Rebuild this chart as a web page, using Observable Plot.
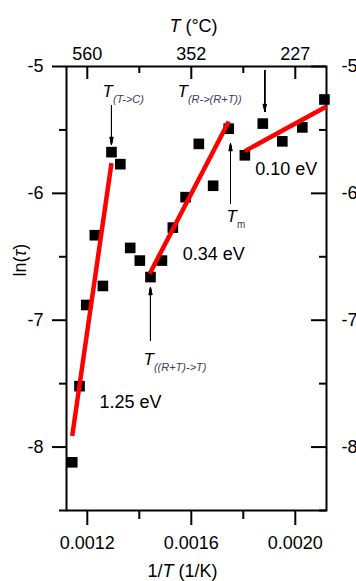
<!DOCTYPE html>
<html><head><meta charset="utf-8">
<script src="https://cdn.jsdelivr.net/npm/d3@7"></script>
<script src="https://cdn.jsdelivr.net/npm/@observablehq/plot@0.6"></script>
<style>body{margin:0;background:#fff}</style>
</head><body><div id="chart"></div>
<script>
// measured points: 1/T (1/K) and ln(tau)
const invT  = [0.001142, 0.001170, 0.001196, 0.001229, 0.001260, 0.001293, 0.001327, 0.001365, 0.001402, 0.001443, 0.001487, 0.001529, 0.001578, 0.001629, 0.001684, 0.001744, 0.001806, 0.001875, 0.001950, 0.002027, 0.002112];
const lnTau = [-8.12, -7.52, -6.88, -6.33, -6.73, -5.675, -5.77, -6.43, -6.53, -6.66, -6.53, -6.27, -6.03, -5.61, -5.94, -5.49, -5.70, -5.45, -5.59, -5.48, -5.26];
// linear fits (start / end)
const fitXStart = [0.001142, 0.001440, 0.001806];
const fitYStart = [-7.913, -6.634, -5.667];
const fitXEnd   = [0.001293, 0.001744, 0.002120];
const fitYEnd   = [-5.762, -5.433, -5.315];
// activation energy labels
const eVText = ["1.25 eV", "0.34 eV", "0.10 eV"];
const eVX = [0.001366, 0.0016865, 0.0019654];
const eVY = [-7.648, -6.476, -5.812];
// transition labels
const annoMain = ["T", "T", "T", "T"];
const annoSub  = ["(T->C)", "(R->(R+T))", "((R+T)->T)", "m"];
const annoX = [0.0012585, 0.001547, 0.0014162, 0.0017354];
const annoY = [-5.244, -5.244, -7.356, -6.229];
// arrows
const arrowX     = [0.001293, 0.0018827, 0.0017508, 0.001443];
const arrowYFrom = [-5.307, -5.031, -6.08, -7.159];
const arrowYTo   = [-5.615, -5.355, -5.607, -6.742];
// ticks
const xMajor = [0.0012, 0.0016, 0.0020];
const xMinor = [0.0014, 0.0018];
const yMajor = [-5, -6, -7, -8];
const yMinor = [-5.5, -6.5, -7.5, -8.5];

const W = 356, H = 581, mL = 66, mR = 30, mT = 66, mB = 71;
const fw = W - mL - mR, fh = H - mT - mB;
const FONT = "'Liberation Sans', Arial, sans-serif";
const idx = a => a.map((_, i) => i);

const arrowMarks = [26, 19, 12, 6, 2].map(a =>
  Plot.arrow(idx(arrowX), {
    x1: i => arrowX[i], x2: i => arrowX[i],
    y1: i => arrowYFrom[i], y2: i => arrowYTo[i],
    stroke: "black", strokeWidth: 1, headAngle: a, headLength: 11
  }));

const chart = Plot.plot({
  width: W, height: H,
  marginLeft: mL, marginRight: mR, marginTop: mT, marginBottom: mB,
  style: {fontFamily: FONT, fontSize: "18px", background: "#fff", color: "black"},
  x: {domain: [0.00112, 0.00212]},
  y: {domain: [-8.5, -5]},
  marks: [
    // bottom axis
    Plot.axisX(xMajor, {anchor: "bottom", tickSize: 15, tickPadding: 11, strokeWidth: 2, fontSize: 18, tickFormat: d3.format(".4f"), label: null}),
    Plot.axisX(xMinor, {anchor: "bottom", tickSize: 9, strokeWidth: 2, tickFormat: () => "", label: null}),
    // top axis (Celsius), inward ticks
    Plot.axisX(xMajor, {anchor: "top", tickSize: 0, tickPadding: 7, fontSize: 18, tickFormat: d => String(Math.round(1 / d - 273.15)), label: null}),
    Plot.tickX(xMajor, {x: d => d, stroke: "black", strokeWidth: 2, insetBottom: fh - 13}),
    Plot.tickX(xMinor, {x: d => d, stroke: "black", strokeWidth: 2, insetBottom: fh - 7}),
    // left axis
    Plot.axisY(yMajor, {anchor: "left", tickSize: 14, tickPadding: 9, strokeWidth: 2, fontSize: 18, tickFormat: d => String(d), label: null}),
    Plot.axisY(yMinor, {anchor: "left", tickSize: 7, strokeWidth: 2, tickFormat: () => "", label: null}),
    // right axis, inward ticks
    Plot.axisY(yMajor, {anchor: "right", tickSize: 0, tickPadding: 15, fontSize: 18, tickFormat: d => String(d), label: null}),
    Plot.tickY(yMajor, {y: d => d, stroke: "black", strokeWidth: 2, insetLeft: fw - 15}),
    Plot.tickY(yMinor, {y: d => d, stroke: "black", strokeWidth: 2, insetLeft: fw - 7}),
    Plot.frame({stroke: "black", strokeWidth: 2}),
    // axis titles
    Plot.text(["1/T (1/K)"], {frameAnchor: "bottom", lineAnchor: "bottom", dy: 66, dx: -14, fontSize: 18}),
    Plot.text(["T (°C)"], {frameAnchor: "top", lineAnchor: "bottom", dy: -35, dx: -3, fontSize: 18}),
    Plot.text(["ln(τ)"], {frameAnchor: "left", rotate: -90, lineAnchor: "middle", dx: -46, dy: -12, fontSize: 18}),
    // data
    Plot.dot(idx(invT), {x: i => invT[i], y: i => lnTau[i], symbol: "square", r: 6, fill: "black", stroke: "none"}),
    Plot.link(idx(fitXStart), {x1: i => fitXStart[i], y1: i => fitYStart[i], x2: i => fitXEnd[i], y2: i => fitYEnd[i], stroke: "#ff0000", strokeWidth: 4.5}),
    ...arrowMarks,
    Plot.text(idx(eVText), {x: i => eVX[i], y: i => eVY[i], text: i => eVText[i], fontSize: 18, textAnchor: "middle", lineAnchor: "middle"}),
    Plot.text(idx(annoMain), {x: i => annoX[i], y: i => annoY[i], text: i => annoMain[i] + "|" + annoSub[i], fontSize: 17, textAnchor: "start", lineAnchor: "bottom"})
  ]
});
document.getElementById("chart").appendChild(chart);

// rich text: italics and subscripts
const NS = "http://www.w3.org/2000/svg";
function addSeg(t, text, o) {
  const s = document.createElementNS(NS, "tspan");
  s.textContent = text;
  if (o.italic) s.setAttribute("font-style", "italic");
  if (o.size) s.setAttribute("font-size", o.size);
  if (o.dy) s.setAttribute("dy", o.dy);
  if (o.fill) s.setAttribute("fill", o.fill);
  t.appendChild(s);
}
const richSpecs = {
  "1/T (1/K)": [["1/"], ["T", {italic: 1}], [" (1/K)"]],
  "T (°C)": [["T", {italic: 1}], [" (°C)"]],
  "ln(τ)": [["ln("], ["τ", {italic: 1}], [")"]]
};
chart.querySelectorAll("text").forEach(t => {
  const s = t.textContent;
  let spec = richSpecs[s];
  if (!spec && s.includes("|")) {
    const [m, sub] = s.split("|");
    spec = [[m, {italic: 1}], [sub, {italic: sub !== "m", size: sub === "m" ? 10 : 11, dy: 5.5, fill: "#34405f"}]];
  }
  if (spec) {
    t.textContent = "";
    spec.forEach(([txt, o]) => addSeg(t, txt, o || {}));
  }
});
</script>
</body></html>
